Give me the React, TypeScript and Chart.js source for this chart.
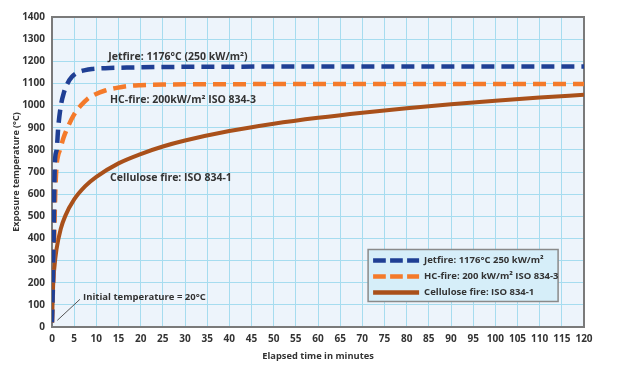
import React, { useEffect, useRef } from "react";
import { Chart, registerables } from "chart.js";

Chart.register(...registerables);

// ---- data ----
const jetTime = [0, 0.35, 0.5, 0.7, 1.05, 1.4, 2, 2.7, 3.5, 4.5, 5.9, 7.5, 9, 12, 18, 30, 60, 90, 120];
const jetTemp = [20, 350, 610, 760, 800, 900, 1000, 1060, 1100, 1130, 1150, 1160, 1165, 1169, 1172, 1175, 1176, 1176, 1176];

const hcTime = [0, 0.45, 0.7, 1, 1.4, 1.8, 2.6, 3.5, 5, 6.5, 8, 9.7, 12, 14.6, 17, 20, 25, 30, 60, 90, 120];
const hcTemp = [20, 350, 580, 720, 777, 800, 855, 900, 960, 1000, 1030, 1050, 1068, 1080, 1088, 1092, 1095, 1096, 1097, 1097, 1097];

const cellTime = [0, 0.25, 0.5, 1, 2, 3, 5, 7.5, 10, 15, 20, 25, 30, 40, 50, 60, 70, 80, 90, 100, 110, 120];
const cellTemp = [20, 185, 261, 349, 445, 502, 576, 636, 678, 739, 781, 815, 842, 885, 918, 945, 968, 988, 1006, 1022, 1036, 1049];

const seriesLabels = [
  "Jetfire: 1176°C 250 kW/m²",
  "HC-fire: 200 kW/m² ISO 834-3",
  "Cellulose fire: ISO 834-1",
];

const annotationTexts = [
  "Jetfire: 1176°C (250 kW/m²)",
  "HC-fire: 200kW/m² ISO 834-3",
  "Cellulose fire: ISO 834-1",
  "Initial temperature = 20°C",
];

const xTitle = "Elapsed time in minutes";
const yTitle = "Exposure temperature (°C)";

const FONT = "'Open Sans', 'DejaVu Sans', sans-serif";
const TEXT = "#333333";
const BLUE = "#1f3f94";
const ORANGE = "#f47a2a";
const BROWN = "#a9501a";

const toPts = (xs: number[], ys: number[]) => xs.map((x, i) => ({ x, y: ys[i] }));

export default function App() {
  const ref = useRef<HTMLCanvasElement | null>(null);

  useEffect(() => {
    if (!ref.current) return;

    const bgPlugin = {
      id: "bg",
      beforeDraw(chart: any) {
        const { ctx, chartArea: a } = chart;
        ctx.save();
        ctx.fillStyle = "#edf4fb";
        ctx.fillRect(a.left, a.top, a.right - a.left, a.bottom - a.top);
        ctx.restore();
      },
      beforeDatasetsDraw(chart: any) {
        const { ctx, chartArea: a } = chart;
        ctx.save();
        ctx.strokeStyle = "#7a7a7a";
        ctx.lineWidth = 2;
        ctx.strokeRect(a.left, a.top, a.right - a.left, a.bottom - a.top);
        ctx.restore();
      },
      afterDatasetsDraw(chart: any) {
        const { ctx } = chart;
        const xs = chart.scales.x;
        const ys = chart.scales.y;
        ctx.save();
        ctx.fillStyle = TEXT;
        ctx.font = `bold 10.5px ${FONT}`;
        ctx.textBaseline = "middle";
        ctx.textAlign = "left";
        ctx.fillText(annotationTexts[0], xs.getPixelForValue(12.7), ys.getPixelForValue(1220));
        ctx.fillText(annotationTexts[1], xs.getPixelForValue(13.1), ys.getPixelForValue(1025));
        ctx.fillText(annotationTexts[2], xs.getPixelForValue(13.1), ys.getPixelForValue(675));
        ctx.font = `bold 9.5px ${FONT}`;
        ctx.fillText(annotationTexts[3], xs.getPixelForValue(7), ys.getPixelForValue(135));
        ctx.strokeStyle = "#555";
        ctx.lineWidth = 1;
        ctx.beginPath();
        ctx.moveTo(xs.getPixelForValue(1.2), ys.getPixelForValue(30));
        ctx.lineTo(xs.getPixelForValue(6.3), ys.getPixelForValue(125));
        ctx.stroke();
        ctx.restore();
      },
      afterDraw(chart: any) {
        const { ctx } = chart;
        const xs = chart.scales.x;
        const ys = chart.scales.y;
        const bx = xs.getPixelForValue(71.3);
        const by = ys.getPixelForValue(350);
        const bw = 190;
        const bh = 52;
        ctx.save();
        ctx.fillStyle = "#d6eef9";
        ctx.fillRect(bx, by, bw, bh);
        ctx.strokeStyle = "#8a8a8a";
        ctx.lineWidth = 1.5;
        ctx.strokeRect(bx, by, bw, bh);
        const dsets = chart.data.datasets;
        dsets.forEach((ds: any, i: number) => {
          const cy = by + 11 + i * 16;
          ctx.strokeStyle = ds.borderColor;
          ctx.lineWidth = 4.5;
          ctx.setLineDash(ds.borderDash && ds.borderDash.length ? [12.7, 4.3] : []);
          ctx.lineCap = "butt";
          ctx.beginPath();
          ctx.moveTo(bx + 5, cy);
          ctx.lineTo(bx + 51, cy);
          ctx.stroke();
          ctx.setLineDash([]);
          ctx.fillStyle = TEXT;
          ctx.font = `bold 9.5px ${FONT}`;
          ctx.textAlign = "left";
          ctx.textBaseline = "middle";
          ctx.fillText(ds.label, bx + 56, cy);
        });
        ctx.restore();
      },
    };

    const chart = new Chart(ref.current, {
      type: "line",
      data: {
        datasets: [
          {
            label: seriesLabels[0],
            data: toPts(jetTime, jetTemp),
            borderColor: BLUE,
            borderWidth: 4.5,
            borderDash: [13, 7],
            pointRadius: 0,
            cubicInterpolationMode: "monotone",
            fill: false,
          },
          {
            label: seriesLabels[1],
            data: toPts(hcTime, hcTemp),
            borderColor: ORANGE,
            borderWidth: 4.5,
            borderDash: [13, 7],
            pointRadius: 0,
            cubicInterpolationMode: "monotone",
            fill: false,
          },
          {
            label: seriesLabels[2],
            data: toPts(cellTime, cellTemp),
            borderColor: BROWN,
            borderWidth: 4,
            borderDash: [],
            pointRadius: 0,
            cubicInterpolationMode: "monotone",
            fill: false,
          },
        ],
      },
      options: {
        animation: false,
        responsive: false,
        devicePixelRatio: 1,
        layout: { padding: { top: 17, right: 35, left: 0, bottom: 0 } },
        plugins: { legend: { display: false }, tooltip: { enabled: false } },
        scales: {
          x: {
            type: "linear",
            min: 0,
            max: 120,
            afterFit: (s: any) => {
              s.height = 40;
            },
            ticks: {
              stepSize: 5,
              padding: 6,
              color: TEXT,
              font: { family: FONT, size: 10, weight: "bold" },
              maxRotation: 0,
              autoSkip: false,
              callback: (v: any) => String(v),
            },
            grid: { color: "#a6dcef", lineWidth: 1, drawTicks: false },
            border: { display: false },
            title: {
              display: true,
              text: xTitle,
              color: TEXT,
              font: { family: FONT, size: 9.3, weight: "bold" },
              padding: { top: 0, bottom: 5 },
            },
          },
          y: {
            type: "linear",
            min: 0,
            max: 1400,
            afterFit: (s: any) => {
              s.width = 52;
            },
            ticks: {
              stepSize: 100,
              padding: 7,
              color: TEXT,
              font: { family: FONT, size: 10, weight: "bold" },
              callback: (v: any) => String(v),
            },
            grid: { color: "#a6dcef", lineWidth: 1, drawTicks: false },
            border: { display: false },
            title: {
              display: true,
              text: yTitle,
              color: TEXT,
              font: { family: FONT, size: 9, weight: "bold" },
              padding: { top: 11, bottom: 0 },
            },
          },
        },
      },
      plugins: [bgPlugin],
    } as any);

    return () => chart.destroy();
  }, []);

  return (
    <div style={{ position: "fixed", left: 0, top: 0, width: 619, height: 367, background: "#fff" }}>
      <canvas ref={ref} width={619} height={367} style={{ display: "block" }} />
    </div>
  );
}
